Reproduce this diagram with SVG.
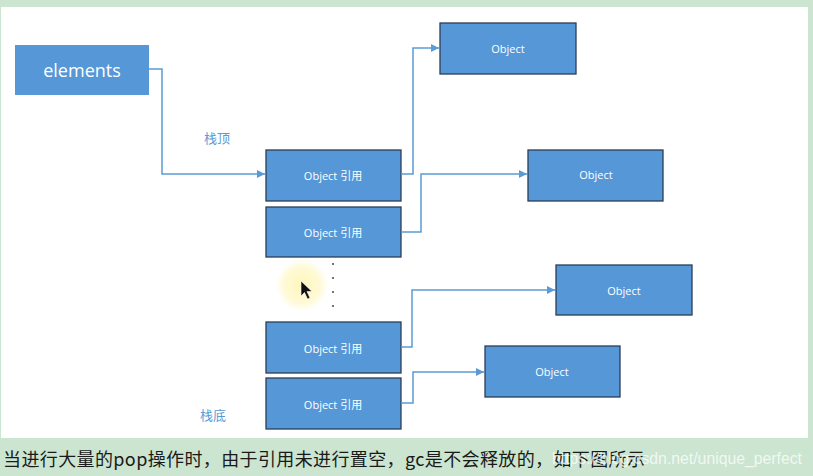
<svg xmlns="http://www.w3.org/2000/svg" width="813" height="476" viewBox="0 0 813 476">
  <defs>
    <marker id="arr" markerWidth="10" markerHeight="10" refX="9" refY="5" orient="auto" markerUnits="userSpaceOnUse">
      <path d="M1,1 L9,5 L1,9 Z" fill="#5b9bd5"/>
    </marker>
    <radialGradient id="glow">
      <stop offset="0" stop-color="#fff6b0" stop-opacity="0.9"/>
      <stop offset="0.7" stop-color="#fff8c8" stop-opacity="0.7"/>
      <stop offset="1" stop-color="#fffbe0" stop-opacity="0"/>
    </radialGradient>
  </defs>
  <style>
    .box { fill: #5597d7; stroke: #2c3e55; stroke-width: 1.3; }
    .obj { font-family: "Open Sans", "Liberation Sans", "Noto Sans CJK SC", sans-serif; font-size: 11px; fill: #ffffff; text-anchor: middle; dominant-baseline: central; }
    .lbl { font-family: "Noto Sans CJK SC", sans-serif; font-size: 13px; fill: #5b9bd5; }
    .con { fill: none; stroke: #5b9bd5; stroke-width: 1.5; marker-end: url(#arr); }
    .dot { fill: #333333; }
  </style>
  <rect x="0" y="0" width="813" height="476" fill="#cbe5d0"/>
  <rect x="1" y="7" width="807" height="431" fill="#ffffff"/>

  <g id="elements">
    <rect x="15" y="45" width="134" height="50" fill="#5597d7"/>
    <text x="82" y="70" font-family="Open Sans, Liberation Sans, sans-serif" font-size="18" fill="#ffffff" text-anchor="middle" dominant-baseline="central">elements</text>
  </g>

  <g id="label-top"><text class="lbl" x="204" y="143">栈顶</text></g>
  <g id="label-bottom"><text class="lbl" x="200" y="420">栈底</text></g>

  <g id="ref1"><rect class="box" x="266" y="150" width="135" height="51"/><text class="obj" x="333" y="175">Object 引用</text></g>
  <g id="ref2"><rect class="box" x="266" y="207" width="135" height="50"/><text class="obj" x="333" y="232">Object 引用</text></g>
  <g id="ref3"><rect class="box" x="266" y="322" width="135" height="51"/><text class="obj" x="333" y="348">Object 引用</text></g>
  <g id="ref4"><rect class="box" x="266" y="378" width="135" height="51"/><text class="obj" x="333" y="404">Object 引用</text></g>

  <g id="obj1"><rect class="box" x="440" y="23" width="136" height="51"/><text class="obj" x="508" y="48">Object</text></g>
  <g id="obj2"><rect class="box" x="528" y="150" width="135" height="51"/><text class="obj" x="596" y="174">Object</text></g>
  <g id="obj3"><rect class="box" x="556" y="265" width="136" height="50"/><text class="obj" x="624" y="290">Object</text></g>
  <g id="obj4"><rect class="box" x="485" y="346" width="135" height="51"/><text class="obj" x="552" y="371">Object</text></g>

  <g id="dots">
    <circle class="dot" cx="333" cy="264" r="0.9"/>
    <circle class="dot" cx="333" cy="278" r="0.9"/>
    <circle class="dot" cx="333" cy="292" r="0.9"/>
    <circle class="dot" cx="333" cy="306" r="0.9"/>
  </g>

  <g id="connectors">
    <path class="con" d="M149,69 H162 V174 H265"/>
    <path class="con" d="M401,174 H413 V48 H439"/>
    <path class="con" d="M401,232 H421 V174 H527"/>
    <path class="con" d="M401,347 H412 V290 H555"/>
    <path class="con" d="M401,403 H413 V372 H484"/>
  </g>

  <g id="cursor">
    <circle cx="302" cy="285" r="27" fill="url(#glow)"/>
    <path d="M301,281 L301,296 L304.5,292.5 L307.5,299 L310,298 L307,291.5 L312,291.5 Z" fill="#111111" stroke="#ffffff" stroke-width="0.6"/>
  </g>

  <text x="3" y="466" font-family="Noto Sans CJK SC, sans-serif" font-size="18" fill="#1a1a1a" textLength="642" lengthAdjust="spacing">当进行大量的pop操作时，由于引用未进行置空，gc是不会释放的，如下图所示</text>
  <text x="552" y="464" font-family="Liberation Sans, Arial, sans-serif" font-size="16" fill="#ffffff" fill-opacity="0.75" textLength="250" lengthAdjust="spacingAndGlyphs">https://blog.csdn.net/unique_perfect</text>
</svg>
